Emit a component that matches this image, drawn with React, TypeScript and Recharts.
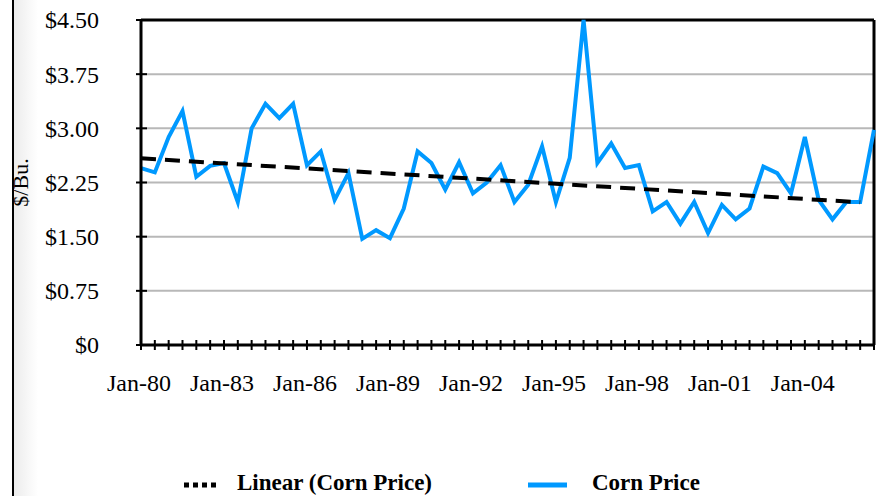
import {
  LineChart,
  Line,
  XAxis,
  YAxis,
  CartesianGrid,
  ReferenceLine,
  Legend,
} from 'recharts'

// half-yearly observations, Jan-80 .. Jul-06
const MONTHS = [
  'Jan-80', 'Jul-80', 'Jan-81', 'Jul-81', 'Jan-82', 'Jul-82', 'Jan-83', 'Jul-83',
  'Jan-84', 'Jul-84', 'Jan-85', 'Jul-85', 'Jan-86', 'Jul-86', 'Jan-87', 'Jul-87',
  'Jan-88', 'Jul-88', 'Jan-89', 'Jul-89', 'Jan-90', 'Jul-90', 'Jan-91', 'Jul-91',
  'Jan-92', 'Jul-92', 'Jan-93', 'Jul-93', 'Jan-94', 'Jul-94', 'Jan-95', 'Jul-95',
  'Jan-96', 'Jul-96', 'Jan-97', 'Jul-97', 'Jan-98', 'Jul-98', 'Jan-99', 'Jul-99',
  'Jan-00', 'Jul-00', 'Jan-01', 'Jul-01', 'Jan-02', 'Jul-02', 'Jan-03', 'Jul-03',
  'Jan-04', 'Jul-04', 'Jan-05', 'Jul-05', 'Jan-06', 'Jul-06',
]

const CORN_PRICE = [
  2.45, 2.39, 2.88, 3.24, 2.33, 2.48, 2.52, 1.98,
  3.0, 3.34, 3.14, 3.34, 2.49, 2.68, 2.01, 2.38,
  1.47, 1.59, 1.48, 1.89, 2.68, 2.52, 2.15, 2.53,
  2.1, 2.25, 2.49, 1.98, 2.22, 2.75, 1.98, 2.59,
  4.5, 2.52, 2.79, 2.45, 2.49, 1.85, 1.98, 1.68,
  1.98, 1.55, 1.94, 1.74, 1.89, 2.47, 2.38, 2.1,
  2.88, 2.01, 1.74, 1.98, 1.98, 2.98,
]

// end points of the linear trend as drawn
const TREND_MONTHS = ['Jan-80', 'Jan-06']
const TREND_VALUES = [2.585, 1.975]

const X_LABELS = ['Jan-80', 'Jan-83', 'Jan-86', 'Jan-89', 'Jan-92', 'Jan-95', 'Jan-98', 'Jan-01', 'Jan-04']
const Y_TICKS = [0, 0.75, 1.5, 2.25, 3, 3.75, 4.5]

const FONT = '"Liberation Serif", "Times New Roman", serif'
const BLUE = '#0099ff'

const data = MONTHS.map((month, i) => {
  const t = TREND_MONTHS.indexOf(month)
  return {
    month,
    price: CORN_PRICE[i],
    trend: t >= 0 ? TREND_VALUES[t] : null,
  }
})

const fmtPrice = (v: number) => (v === 0 ? '$0' : `$${v.toFixed(2)}`)

function XTick({ x, y, payload }: any) {
  return (
    <g>
      <line x1={x} x2={x} y1={y - 5} y2={y + 5} stroke="#000" strokeWidth={2} />
      {X_LABELS.includes(payload.value) && (
        <text x={x - 2} y={y + 38} dy="0.35em" textAnchor="middle" fontSize={24} fontFamily={FONT} fill="#000">
          {payload.value}
        </text>
      )}
    </g>
  )
}

function YTick({ x, y, payload }: any) {
  return (
    <g>
      <line x1={x - 5} x2={x + 6} y1={y} y2={y} stroke="#000" strokeWidth={2} />
      <text x={x - 42} y={y} dy="0.35em" textAnchor="end" fontSize={24} fontFamily={FONT} fill="#000">
        {fmtPrice(payload.value)}
      </text>
    </g>
  )
}

function LegendBox() {
  return (
    <div style={{ position: 'relative', height: 26, fontFamily: FONT, fontWeight: 'bold', fontSize: 23 }}>
      <svg width={40} height={10} style={{ position: 'absolute', left: 184, top: 10 }}>
        <line x1={0} x2={32} y1={5} y2={5} stroke="#000" strokeWidth={5} strokeDasharray="5 4" />
      </svg>
      <span style={{ position: 'absolute', left: 237, top: 0, lineHeight: '26px', whiteSpace: 'nowrap' }}>
        Linear (Corn Price)
      </span>
      <svg width={40} height={10} style={{ position: 'absolute', left: 528, top: 10 }}>
        <line x1={0} x2={39} y1={5} y2={5} stroke={BLUE} strokeWidth={5} />
      </svg>
      <span style={{ position: 'absolute', left: 592, top: 0, lineHeight: '26px', whiteSpace: 'nowrap' }}>
        Corn Price
      </span>
    </div>
  )
}

export default function App() {
  return (
    <div style={{ position: 'absolute', left: 0, top: 0, width: 877, height: 496, background: '#fff' }}>
      <div
        style={{
          position: 'absolute',
          left: 14,
          top: 0,
          width: 24,
          height: 496,
          background: 'linear-gradient(to right, #ececec, #ffffff)',
        }}
      />
      <div style={{ position: 'absolute', left: 12, top: 0, width: 2, height: 496, background: '#000' }} />
      <LineChart width={877} height={496} data={data} margin={{ top: 20, right: 3, bottom: 91, left: 0 }}>
        <CartesianGrid horizontal vertical={false} stroke="#b8b8b8" strokeWidth={2} />
        <XAxis
          dataKey="month"
          interval={0}
          height={60}
          tickSize={0}
          tickMargin={0}
          tickLine={false}
          axisLine={{ stroke: '#000', strokeWidth: 3 }}
          tick={<XTick />}
        />
        <YAxis
          width={141}
          domain={[0, 4.5]}
          ticks={Y_TICKS}
          interval={0}
          tickSize={0}
          tickMargin={0}
          tickLine={false}
          axisLine={{ stroke: '#000', strokeWidth: 3 }}
          tick={<YTick />}
          label={{
            value: '$/Bu.',
            angle: -90,
            position: 'insideLeft',
            offset: 20,
            style: { textAnchor: 'middle', fontSize: 22, fontFamily: FONT, fill: '#000' },
          }}
        />
        <ReferenceLine y={4.5} stroke="#000" strokeWidth={3} />
        <ReferenceLine x="Jul-06" stroke="#000" strokeWidth={3} />
        <Line
          dataKey="price"
          name="Corn Price"
          stroke={BLUE}
          strokeWidth={4}
          dot={false}
          isAnimationActive={false}
        />
        <Line
          dataKey="trend"
          name="Linear (Corn Price)"
          stroke="#000"
          strokeWidth={4}
          strokeDasharray="15 9"
          dot={false}
          connectNulls
          isAnimationActive={false}
        />
        <Legend
          layout="horizontal"
          verticalAlign="middle"
          align="center"
          wrapperStyle={{ top: 470, left: 0, width: 877 }}
          content={<LegendBox />}
        />
      </LineChart>
    </div>
  )
}
